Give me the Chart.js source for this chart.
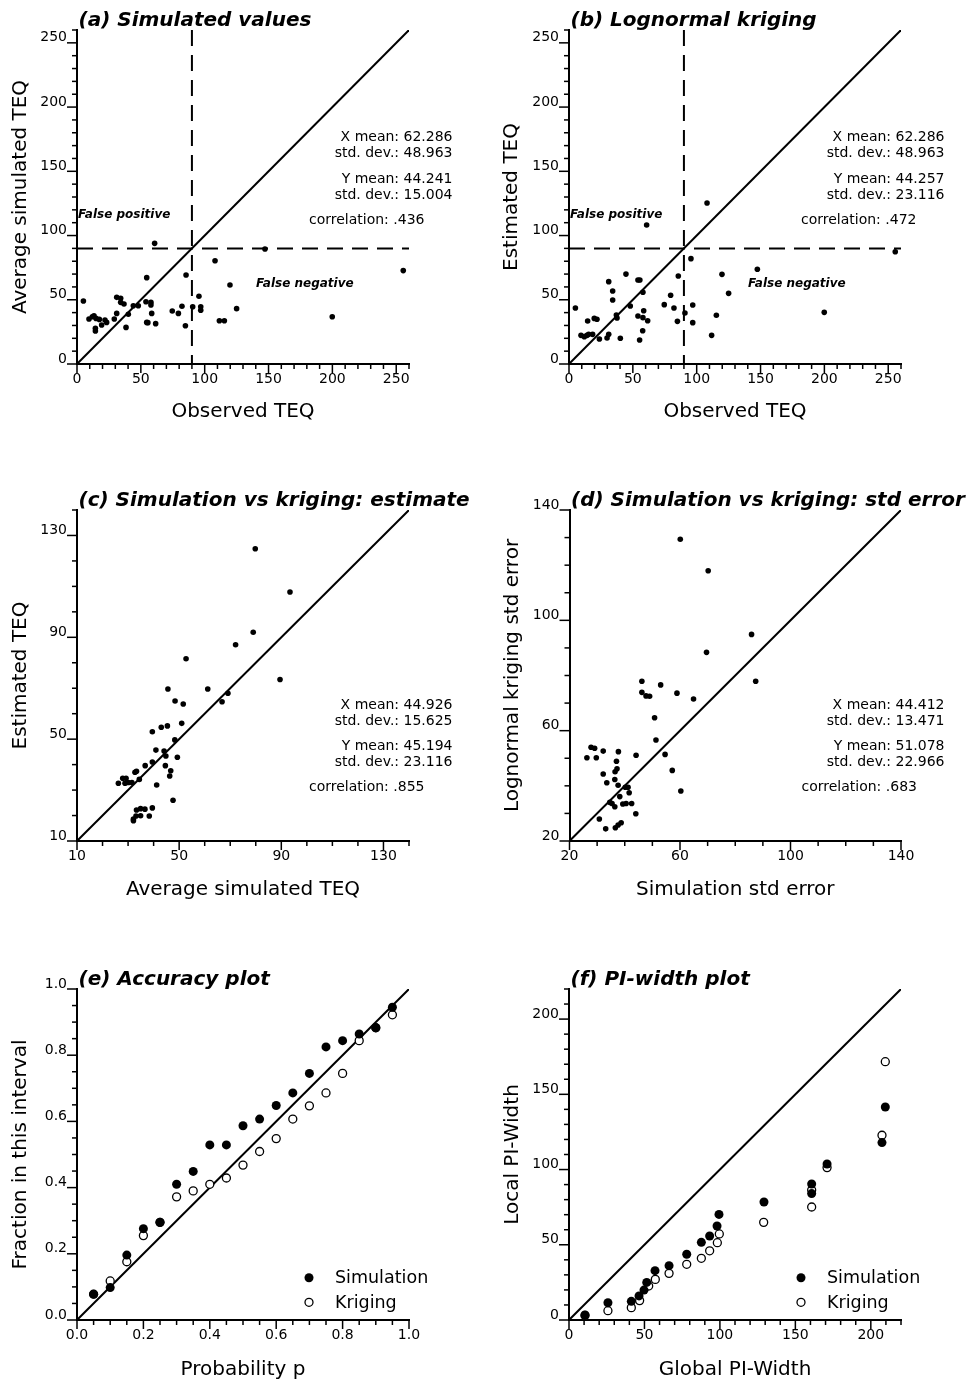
<!DOCTYPE html>
<html>
<head>
<meta charset="utf-8">
<script src="https://cdn.jsdelivr.net/npm/chart.js@4.4.1/dist/chart.umd.min.js"></script>
<style>
  html, body { margin: 0; padding: 0; background: #fff; }
  body { width: 977px; height: 1385px; position: relative; overflow: hidden; }
  canvas { position: absolute; }
</style>
</head>
<body>
<canvas id="chartA" width="488" height="440" style="left:0;top:0"></canvas>
<canvas id="chartB" width="489" height="440" style="left:488px;top:0"></canvas>
<canvas id="chartC" width="488" height="460" style="left:0;top:460px"></canvas>
<canvas id="chartD" width="489" height="460" style="left:488px;top:460px"></canvas>
<canvas id="chartE" width="488" height="445" style="left:0;top:940px"></canvas>
<canvas id="chartF" width="489" height="445" style="left:488px;top:940px"></canvas>
<script>
const FONT = "'DejaVu Sans', sans-serif";

// TEQ threshold used for the false positive / false negative split
const thresholdTEQ = 90;

// (a) observed TEQ vs average simulated TEQ
const observedA = [5, 9.4, 12, 13.3, 14.9, 14.4, 14.4, 17.5, 19.3, 21.9, 23.2, 29.2, 31.1, 31.1, 34.2, 34.2,
  36.8, 38.4, 40.2, 44.1, 48, 54.6, 54, 57.9, 57.9, 58.5, 54.6, 55.5, 61.6, 60.8, 74.6, 79.4, 82.2, 85.4,
  84.9, 90.6, 95.5, 96.9, 96.9, 108.1, 111.5, 115.4, 119.8, 125, 147.2, 199.9, 255.5];
const simulatedA = [49, 35, 36.8, 37.6, 35.5, 27.8, 25.7, 34.7, 30.4, 34.3, 32.4, 35, 39.4, 51.9, 51.2, 48,
  46.7, 28.5, 38.7, 45.4, 45.4, 67.2, 48.5, 48, 46, 39.4, 32.4, 32.2, 31.4, 93.9, 41.3, 39.4, 44.9, 69.3,
  29.8, 44.6, 52.7, 44.6, 41.8, 80.4, 33.7, 33.7, 61.5, 43.1, 89.5, 36.8, 72.7];

// (b) observed TEQ vs lognormal kriging estimate
const observedB = [5, 9.4, 12, 14.1, 15.4, 18.5, 14.6, 19.8, 21.9, 23.8, 29.8, 31.1, 31.1, 34.2, 34.2, 37.1,
  37.6, 40.2, 44.6, 48, 54, 55.5, 55.3, 57.9, 54, 58.5, 57.9, 61.6, 57.7, 60.8, 74.6, 79.6, 82.2, 85.6,
  84.9, 90.8, 95.5, 96.9, 96.9, 108.1, 111.7, 115.4, 119.8, 125, 147.5, 199.9, 255.5];
const krigedB = [43.6, 22.3, 21.3, 22.3, 23.1, 23.1, 33.5, 35.5, 34.8, 19.5, 20.2, 23.1, 64.1, 56.8, 49.8, 38.1,
  35.8, 20, 70, 45.1, 65.4, 65.4, 18.7, 55.8, 37.4, 41.5, 36.1, 33.7, 25.9, 108.2, 46.2, 53.5, 43.6, 68.5,
  33.2, 39.7, 82, 45.9, 32.2, 125.3, 22.3, 37.9, 69.8, 55, 73.7, 40.2, 87.4];

// (c) simulated vs kriged estimate
const simEstC = [79.8, 93.4, 79, 72.1, 52.7, 89.5, 61.2, 45.6, 66.8, 69.1, 48.4, 51.6, 51, 39.5, 43, 45.4,
  48.3, 40.9, 44.1, 44.8, 49.3, 39.5, 36.7, 44.6, 46.7, 46.3, 32.7, 33.3, 34.4, 26.2, 27.9, 29.2, 28.8,
  30.1, 31.5, 41.2, 47.6, 39.5, 33.3, 34.9, 36.6, 38.3, 34.9, 33.1, 32.1, 32.1];
const krigEstC = [124.8, 107.8, 92, 87.1, 81.6, 73.4, 69.7, 69.7, 64.7, 68, 65, 63.8, 56.2, 52.9, 54.7, 55.2,
  49.7, 45.7, 45.3, 43.4, 42.9, 41, 39.6, 39.6, 37.6, 35.5, 37, 37.4, 34.2, 32.7, 34.6, 34.6, 32.7,
  33, 33, 32, 26, 23, 22.2, 22.7, 22.5, 19.8, 19.9, 19.8, 18.6, 18];

// (d) simulated vs kriged standard error
const simErrD = [60.1, 70.2, 85.9, 69.6, 87.4, 46.2, 53, 46.2, 47.7, 49, 58.9, 64.9, 50.8, 51.3, 54.6, 57.2,
  60.3, 44.1, 27.8, 29.1, 32.2, 26.3, 29.7, 37.7, 37, 37.2, 36.5, 32.2, 33.5, 36.4, 37.6, 40.2, 41.2,
  41.6, 38.2, 34.6, 35.4, 36.4, 39.3, 40.5, 42.5, 44, 30.8, 33.1, 36.6, 37.6, 38.7];
const krigErrD = [129.4, 118, 94.9, 88.4, 77.9, 77.9, 76.6, 73.9, 72.6, 72.5, 73.6, 71.5, 64.7, 56.6, 51.4, 45.6,
  38.1, 51.1, 54, 53.6, 52.6, 50.2, 50.2, 52.4, 48.9, 46.2, 45.1, 44.3, 41.1, 42.3, 40.2, 39.5, 39.5,
  37.5, 36.1, 34, 33.6, 32.4, 33.4, 33.6, 33.6, 29.9, 28, 24.4, 24.8, 25.8, 26.6];

// (e) accuracy plot
const probP = [0.05, 0.1, 0.15, 0.2, 0.25, 0.3, 0.35, 0.4, 0.45, 0.5, 0.55, 0.6, 0.65, 0.7, 0.75, 0.8, 0.85, 0.9, 0.95];
const accSim = [0.078, 0.098, 0.196, 0.276, 0.295, 0.41, 0.449, 0.529, 0.529, 0.587, 0.607, 0.648, 0.686,
  0.745, 0.825, 0.844, 0.864, 0.883, 0.945];
const accKrig = [0.078, 0.118, 0.176, 0.255, 0.295, 0.372, 0.39, 0.41, 0.429, 0.468, 0.509, 0.548, 0.607,
  0.647, 0.686, 0.745, 0.844, 0.883, 0.922];

// (f) PI-width plot
const globalWidthSim = [10.6, 25.8, 41.3, 46.4, 49.7, 51.5, 57, 66.3, 78, 87.7, 93.2, 98.1, 99.4, 129.2,
  160.8, 160.8, 171, 207.4, 209.6];
const localWidthSim = [3.3, 11.5, 12.4, 16, 19.9, 25, 32.8, 36.1, 43.7, 51.6, 55.8, 62.5, 70.2, 78.4,
  90.4, 84, 103.7, 117.9, 141.6];
const globalWidthKrig = [10.6, 25.8, 41.3, 46.8, 52.8, 57.2, 66.3, 78, 87.7, 93.2, 98.3, 99.6, 129,
  160.8, 160.8, 171, 207.4, 209.6];
const localWidthKrig = [3, 6.2, 8.2, 12.9, 22.6, 27, 31, 37, 41, 46, 51.4, 57.2, 64.9,
  75.1, 86.4, 101.3, 122.8, 171.7];

const statsA = ['X mean: 62.286', 'std. dev.: 48.963', 'Y mean: 44.241', 'std. dev.: 15.004', 'correlation: .436'];
const statsB = ['X mean: 62.286', 'std. dev.: 48.963', 'Y mean: 44.257', 'std. dev.: 23.116', 'correlation: .472'];
const statsC = ['X mean: 44.926', 'std. dev.: 15.625', 'Y mean: 45.194', 'std. dev.: 23.116', 'correlation: .855'];
const statsD = ['X mean: 44.412', 'std. dev.: 13.471', 'Y mean: 51.078', 'std. dev.: 22.966', 'correlation: .683'];

const legendLabels = ['Simulation', 'Kriging'];


Chart.defaults.font.family = FONT;
Chart.defaults.font.size = 14;
Chart.defaults.color = '#000';

function points(xs, ys) {
    return xs.map((x, i) => ({ x, y: ys[i] }));
}

function isMajor(v, a) {
    const k = (v - a.labelFrom) / a.major;
    return Math.abs(k - Math.round(k)) < 1e-6;
}

// tick marks, panel title, statistics block, notes and legend
const panelDecor = {
    id: 'panelDecor',
    afterDraw(chart, args, opts) {
        const { ctx, chartArea: area } = chart;
        ctx.save();
        ctx.strokeStyle = '#000';
        ctx.fillStyle = '#000';
        ctx.lineWidth = 1.5;

        const xs = chart.scales.x;
        xs.ticks.forEach(t => {
            const p = xs.getPixelForValue(t.value);
            ctx.beginPath();
            ctx.moveTo(p, area.bottom);
            ctx.lineTo(p, area.bottom + (t.label !== '' ? 9 : 5));
            ctx.stroke();
        });
        const ys = chart.scales.y;
        ys.ticks.forEach(t => {
            const p = ys.getPixelForValue(t.value);
            ctx.beginPath();
            ctx.moveTo(area.left, p);
            ctx.lineTo(area.left - (t.label !== '' ? 10 : 5), p);
            ctx.stroke();
        });

        ctx.textBaseline = 'alphabetic';
        ctx.font = 'italic bold 20px ' + FONT;
        ctx.textAlign = 'left';
        ctx.fillText(opts.title, area.left + 1.5, area.top - 4);

        if (opts.stats) {
            const top = area.top + opts.statsDy;
            const offsets = [0, 16, 41.5, 57.5];
            ctx.font = '14px ' + FONT;
            ctx.textAlign = 'right';
            offsets.forEach((dy, i) => ctx.fillText(opts.stats[i], area.right + 43.5, top + dy));
            ctx.textAlign = 'left';
            ctx.fillText(opts.stats[4], area.left + 232, top + 82.5);
        }

        if (opts.notes) {
            ctx.font = 'italic bold 12px ' + FONT;
            ctx.textAlign = 'left';
            opts.notes.forEach(n => ctx.fillText(n.text, area.left + n.dx, area.top + n.dy));
        }

        if (opts.legend) {
            const rows = [area.bottom - 42.3, area.bottom - 17.7];
            ctx.font = '17.5px ' + FONT;
            ctx.textAlign = 'left';
            ctx.textBaseline = 'middle';
            legendLabels.forEach((label, i) => {
                const y = rows[i];
                ctx.beginPath();
                ctx.arc(area.left + 232, y, i === 0 ? 4.5 : 4, 0, Math.PI * 2);
                if (i === 0) {
                    ctx.fill();
                } else {
                    ctx.fillStyle = '#fff';
                    ctx.fill();
                    ctx.lineWidth = 1.3;
                    ctx.stroke();
                    ctx.fillStyle = '#000';
                }
                ctx.fillText(label, area.left + 258, y + 1);
            });
        }
        ctx.restore();
    }
};

function axisOpts(isX, a) {
    return {
        type: 'linear',
        position: isX ? 'bottom' : 'left',
        min: a.min,
        max: a.max,
        grid: { display: false, drawTicks: false },
        border: { display: true, color: '#000', width: 2 },
        ticks: {
            stepSize: a.step,
            autoSkip: false,
            maxRotation: 0,
            padding: isX ? 7 : 10,
            labelOffset: isX ? 0 : -5,
            font: { size: 14 },
            callback: v => isMajor(v, a) ? (a.fixed ? v.toFixed(a.fixed) : String(v)) : ''
        },
        title: {
            display: true,
            text: a.title,
            font: { size: 20 },
            padding: isX ? { top: 0, bottom: a.titlePad } : { top: a.titlePad, bottom: 0 }
        },
        afterFit: s => {
            if (isX) s.height = a.size;
            else s.width = a.size;
        }
    };
}

function scatterSet(data) {
    return {
        data,
        pointRadius: 2.8,
        pointBackgroundColor: '#000',
        pointBorderWidth: 0
    };
}

function lineSet(data, dash) {
    return {
        data,
        showLine: true,
        pointRadius: 0,
        borderColor: '#000',
        borderWidth: 2,
        borderDash: dash || []
    };
}

function filledSet(data) {
    return { data, pointRadius: 4.5, pointBackgroundColor: '#000', pointBorderWidth: 0 };
}

function openSet(data) {
    return { data, pointRadius: 4, pointBackgroundColor: '#fff', pointBorderColor: '#000', pointBorderWidth: 1.3 };
}

function panel(id, o) {
    return new Chart(document.getElementById(id), {
        type: 'scatter',
        data: { datasets: o.datasets },
        options: {
            responsive: false,
            animation: false,
            events: [],
            layout: { padding: { left: 0, top: o.top, right: o.right, bottom: 0 } },
            plugins: {
                legend: { display: false },
                tooltip: { enabled: false },
                panelDecor: o.decor
            },
            scales: {
                x: axisOpts(true, o.x),
                y: axisOpts(false, o.y)
            }
        },
        plugins: [panelDecor]
    });
}

const teqNotes = [
    { text: 'False positive', dx: 1, dy: 188 },
    { text: 'False negative', dx: 179, dy: 256.5 }
];

panel('chartA', {
    top: 30, right: 79,
    datasets: [
        scatterSet(points(observedA, simulatedA)),
        lineSet([{ x: 0, y: 0 }, { x: 260, y: 260 }]),
        lineSet([{ x: 0, y: thresholdTEQ }, { x: 260, y: thresholdTEQ }], [16, 9]),
        lineSet([{ x: thresholdTEQ, y: 260 }, { x: thresholdTEQ, y: 0 }], [16, 9])
    ],
    x: { min: 0, max: 260, step: 10, major: 50, labelFrom: 0, title: 'Observed TEQ', titlePad: 16, size: 76 },
    y: { min: 0, max: 260, step: 10, major: 50, labelFrom: 0, title: 'Average simulated TEQ', titlePad: 9, size: 77 },
    decor: { title: '(a) Simulated values', stats: statsA, statsDy: 111, notes: teqNotes }
});

panel('chartB', {
    top: 30, right: 76,
    datasets: [
        scatterSet(points(observedB, krigedB)),
        lineSet([{ x: 0, y: 0 }, { x: 260, y: 260 }]),
        lineSet([{ x: 0, y: thresholdTEQ }, { x: 260, y: thresholdTEQ }], [16, 9]),
        lineSet([{ x: thresholdTEQ, y: 260 }, { x: thresholdTEQ, y: 0 }], [16, 9])
    ],
    x: { min: 0, max: 260, step: 10, major: 50, labelFrom: 0, title: 'Observed TEQ', titlePad: 16, size: 76 },
    y: { min: 0, max: 260, step: 10, major: 50, labelFrom: 0, title: 'Estimated TEQ', titlePad: 12, size: 81 },
    decor: { title: '(b) Lognormal kriging', stats: statsB, statsDy: 111, notes: teqNotes }
});

panel('chartC', {
    top: 50, right: 79,
    datasets: [
        scatterSet(points(simEstC, krigEstC)),
        lineSet([{ x: 10, y: 10 }, { x: 140, y: 140 }])
    ],
    x: { min: 10, max: 140, step: 10, major: 40, labelFrom: 10, title: 'Average simulated TEQ', titlePad: 18, size: 79 },
    y: { min: 10, max: 140, step: 10, major: 40, labelFrom: 10, title: 'Estimated TEQ', titlePad: 9, size: 77 },
    decor: { title: '(c) Simulation vs kriging: estimate', stats: statsC, statsDy: 198.5 }
});

panel('chartD', {
    top: 50, right: 76,
    datasets: [
        scatterSet(points(simErrD, krigErrD)),
        lineSet([{ x: 20, y: 20 }, { x: 140, y: 140 }])
    ],
    x: { min: 20, max: 140, step: 10, major: 40, labelFrom: 20, title: 'Simulation std error', titlePad: 18, size: 79 },
    y: { min: 20, max: 140, step: 10, major: 40, labelFrom: 20, title: 'Lognormal kriging std error', titlePad: 13, size: 81.5 },
    decor: { title: '(d) Simulation vs kriging: std error', stats: statsD, statsDy: 198.5 }
});

panel('chartE', {
    top: 49, right: 79,
    datasets: [
        filledSet(points(probP, accSim)),
        openSet(points(probP, accKrig)),
        lineSet([{ x: 0, y: 0 }, { x: 1, y: 1 }])
    ],
    x: { min: 0, max: 1, step: 0.05, major: 0.2, labelFrom: 0, fixed: 1, title: 'Probability p', titlePad: 3.5, size: 65 },
    y: { min: 0, max: 1, step: 0.05, major: 0.2, labelFrom: 0, fixed: 1, title: 'Fraction in this interval', titlePad: 9, size: 77 },
    decor: { title: '(e) Accuracy plot', legend: true }
});

panel('chartF', {
    top: 49, right: 76,
    datasets: [
        filledSet(points(globalWidthSim, localWidthSim)),
        openSet(points(globalWidthKrig, localWidthKrig)),
        lineSet([{ x: 0, y: 0 }, { x: 220, y: 220 }])
    ],
    x: { min: 0, max: 220, step: 10, major: 50, labelFrom: 0, title: 'Global PI-Width', titlePad: 3.5, size: 65 },
    y: { min: 0, max: 220, step: 10, major: 50, labelFrom: 0, title: 'Local PI-Width', titlePad: 12.5, size: 81 },
    decor: { title: '(f) PI-width plot', legend: true }
});
</script>
</body>
</html>
